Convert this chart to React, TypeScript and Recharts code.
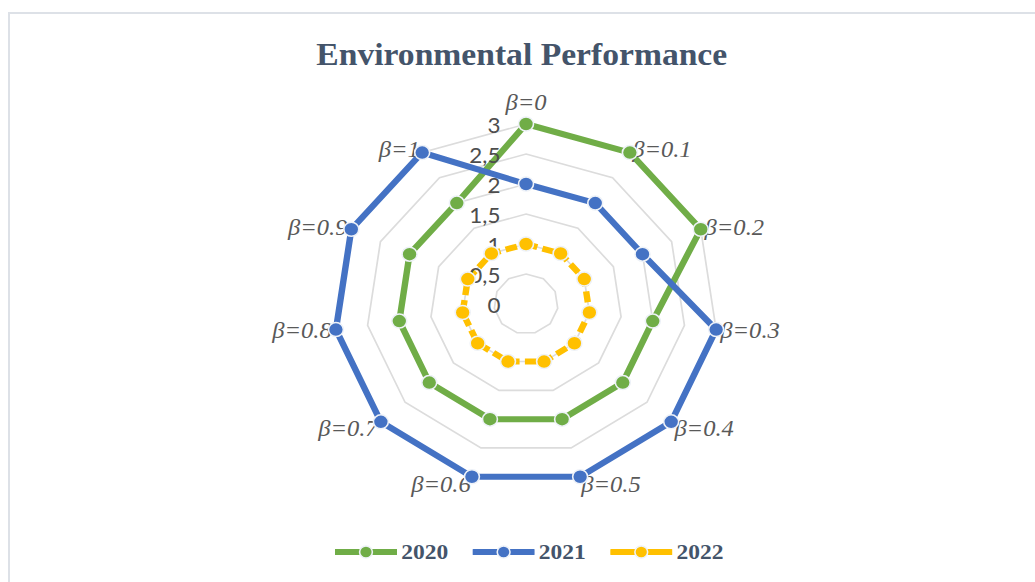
import {
  RadarChart,
  Radar,
  PolarGrid,
  PolarAngleAxis,
  PolarRadiusAxis,
  Legend
} from 'recharts'

// values
const categories = ['β=0', 'β=0.1', 'β=0.2', 'β=0.3', 'β=0.4', 'β=0.5', 'β=0.6', 'β=0.7', 'β=0.8', 'β=0.9', 'β=1']
const values2020 = [3, 3, 3, 2, 2, 2, 2, 2, 2, 2, 2]
const values2021 = [2, 2, 2, 3, 3, 3, 3, 3, 3, 3, 3]
const values2022 = [1, 1, 1, 1, 1, 1, 1, 1, 1, 1, 1]
const radiusTicks = [0, 0.5, 1, 1.5, 2, 2.5, 3]

const series = [
  { key: '2020', color: '#70AD47', dash: undefined as string | undefined },
  { key: '2021', color: '#4472C4', dash: undefined as string | undefined },
  { key: '2022', color: '#FFC000', dash: '11 5' }
]

const data = categories.map((name, i) => ({
  name,
  '2020': values2020[i],
  '2021': values2021[i],
  '2022': values2022[i]
}))

// the reference image is slightly stretched horizontally
const STRETCH = 1.067
const W = 970
const H = 582
const CX = 493
const CY = 304

const AngleTick = (props: any) => {
  const { x, y, textAnchor, payload } = props
  let dy = 0
  if (textAnchor === 'middle') dy = -18
  else if (y > CY + 60) dy = 4
  return (
    <text
      x={x}
      y={y + dy}
      textAnchor={textAnchor}
      dominantBaseline='central'
      fill='#595959'
      fontFamily='"Liberation Serif", serif'
      fontStyle='italic'
      fontSize={23}
    >
      {payload.value}
    </text>
  )
}

const RadiusTick = (props: any) => {
  const { x, y, payload } = props
  return (
    <text
      x={x - 24}
      y={y + 1}
      textAnchor='end'
      dominantBaseline='central'
      fill='#4d4d4d'
      fontFamily='Lato, sans-serif'
      fontSize={21}
    >
      {String(payload.value).replace('.', ',')}
    </text>
  )
}

const makeDot = (color: string) => (p: any) => (
  <circle
    key={`dot-${p.index}`}
    cx={p.cx}
    cy={p.cy}
    r={7}
    fill={color}
    stroke='#eef2f8'
    strokeWidth={1.5}
  />
)

const LegendRow = () => (
  <div style={{ display: 'flex', justifyContent: 'center', marginLeft: 22, gap: 23 }}>
    {series.map((s) => (
      <div key={s.key} style={{ display: 'flex', alignItems: 'center' }}>
        <svg width={58} height={16}>
          <line x1={1} y1={8} x2={57} y2={8} stroke={s.color} strokeWidth={6} strokeLinecap='round' />
          <circle cx={29} cy={8} r={6} fill={s.color} stroke='#eef2f8' strokeWidth={1.5} />
        </svg>
        <span
          style={{
            marginLeft: 4,
            fontFamily: '"Liberation Serif", serif',
            fontWeight: 'bold',
            fontSize: 22,
            color: '#44546A'
          }}
        >
          {s.key}
        </span>
      </div>
    ))}
  </div>
)

export default function App () {
  return (
    <div style={{ position: 'absolute', left: 0, top: 0, width: 1035, height: 582, overflow: 'hidden', background: '#fff' }}>
      <div
        style={{
          position: 'absolute',
          left: 8,
          top: 12,
          width: 1100,
          height: 700,
          border: '2px solid #dde1e7',
          boxSizing: 'border-box'
        }}
      />
      <div
        style={{
          position: 'absolute',
          left: 0,
          top: 0,
          width: W,
          height: H,
          transform: `scaleX(${STRETCH})`,
          transformOrigin: '0 0'
        }}
      >
        <RadarChart width={W} height={H} data={data} cx={CX} cy={CY} outerRadius={180}>
          <PolarGrid gridType='polygon' radialLines={false} stroke='#dcdcdc' strokeWidth={1.6} />
          <PolarAngleAxis dataKey='name' tick={AngleTick} tickLine={false} axisLine={false} tickSize={4} />
          <PolarRadiusAxis
            angle={90}
            domain={[0, 3]}
            ticks={radiusTicks as any}
            tick={RadiusTick}
            axisLine={false}
            tickLine={false}
          />
          {series.map((s) => (
            <Radar
              key={s.key}
              name={s.key}
              dataKey={s.key}
              stroke={s.color}
              strokeWidth={6}
              strokeDasharray={s.dash}
              fill='none'
              fillOpacity={0}
              dot={makeDot(s.color)}
              isAnimationActive={false}
            />
          ))}
          <Legend content={LegendRow} wrapperStyle={{ top: 539, left: 0, width: W }} />
        </RadarChart>
        <svg style={{ position: 'absolute', left: 0, top: 0 }} width={W} height={90}>
          <text
            x={489}
            y={65}
            textAnchor='middle'
            fill='#44546A'
            fontFamily='"Liberation Serif", serif'
            fontWeight='bold'
            fontSize={31.5}
          >
            Environmental Performance
          </text>
        </svg>
      </div>
    </div>
  )
}
